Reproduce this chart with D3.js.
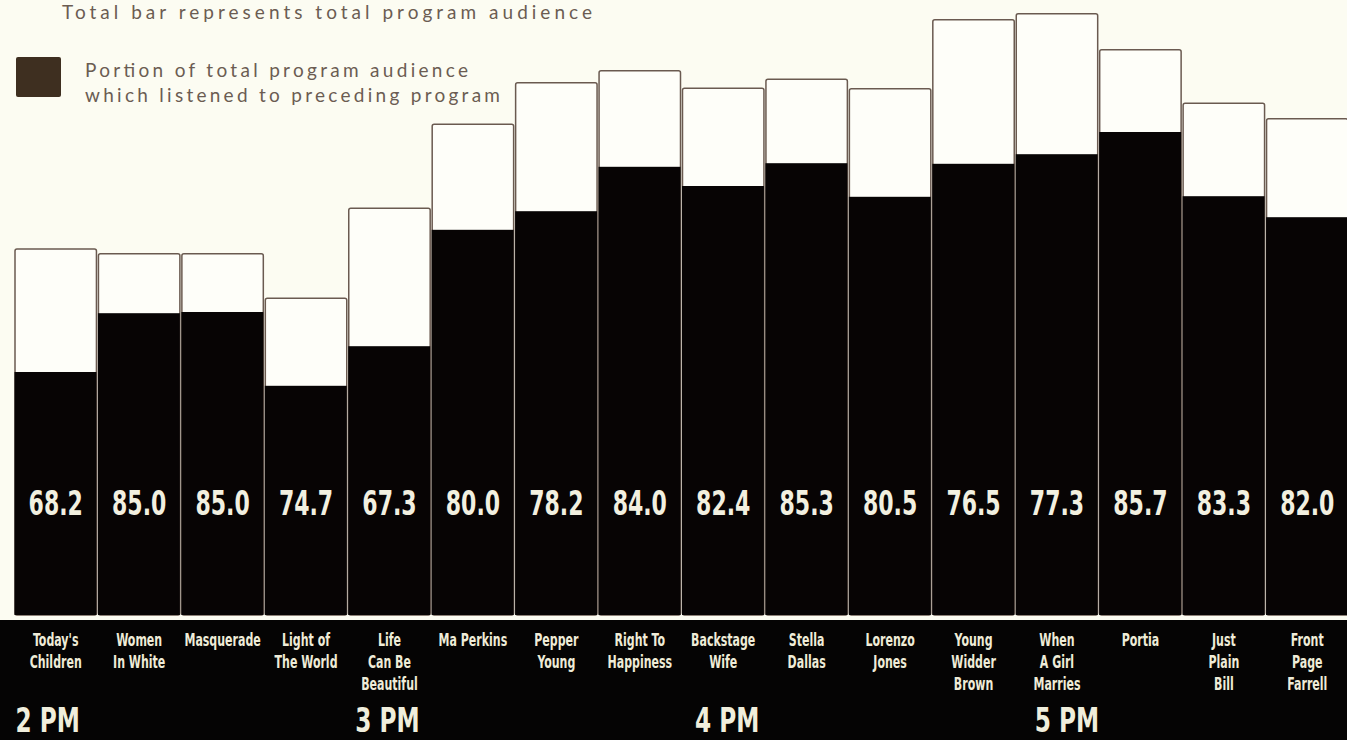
<!DOCTYPE html>
<html>
<head>
<meta charset="utf-8">
<script src="https://d3js.org/d3.v7.min.js"></script>
<style>
  body { margin: 0; background: #fcfcf2; overflow: hidden; }
  svg { display: block; }
</style>
</head>
<body>
<div id="chart"></div>
<script>
// programs in broadcast order
var programs = ["Today's Children", "Women In White", "Masquerade", "Light of The World",
    "Life Can Be Beautiful", "Ma Perkins", "Pepper Young", "Right To Happiness",
    "Backstage Wife", "Stella Dallas", "Lorenzo Jones", "Young Widder Brown",
    "When A Girl Marries", "Portia", "Just Plain Bill", "Front Page Farrell"];

// label lines under each bar
var programLines = [["Today's", "Children"], ["Women", "In White"], ["Masquerade"],
    ["Light of", "The World"], ["Life", "Can Be", "Beautiful"], ["Ma Perkins"],
    ["Pepper", "Young"], ["Right To", "Happiness"], ["Backstage", "Wife"],
    ["Stella", "Dallas"], ["Lorenzo", "Jones"], ["Young", "Widder", "Brown"],
    ["When", "A Girl", "Marries"], ["Portia"], ["Just", "Plain", "Bill"],
    ["Front", "Page", "Farrell"]];

// total program audience (index)
var totalAudience = [61.0, 60.2, 60.2, 52.8, 67.8, 81.8, 88.7, 90.7,
    87.8, 89.3, 87.7, 99.2, 100.2, 94.2, 85.3, 82.7];

// part of that audience which listened to the preceding program
var precedingAudience = [40.5, 50.3, 50.5, 38.2, 44.8, 64.2, 67.3, 74.7,
    71.5, 75.3, 69.7, 75.2, 76.8, 80.5, 69.8, 66.3];

// percentage printed on each bar
var pctLabels = ["68.2", "85.0", "85.0", "74.7", "67.3", "80.0", "78.2", "84.0",
    "82.4", "85.3", "80.5", "76.5", "77.3", "85.7", "83.3", "82.0"];

// hour marks and the program they sit under
var timeLabels = ["2 PM", "3 PM", "4 PM", "5 PM"];
var timePrograms = ["Today's Children", "Life Can Be Beautiful", "Backstage Wife", "When A Girl Marries"];

var W = 1347, H = 740;
var base = 615;

var svg = d3.select("#chart").append("svg")
    .attr("width", W)
    .attr("height", H);

svg.append("rect")
    .attr("width", W).attr("height", H)
    .attr("fill", "#fcfcf2");

var x = d3.scaleBand()
    .domain(programs)
    .range([14, 1349])
    .padding(0);

var y = d3.scaleLinear()
    .domain([0, 100])
    .range([base, 15]);

var narrow = "'DejaVu Sans Condensed', 'DejaVu Sans', sans-serif";

// squeezed text, since no narrow face is around
function squeezed(sel, cx, cy, sx, size, txt, fill) {
    sel.append("text")
        .attr("transform", "translate(" + cx + "," + cy + ") scale(" + sx + ",1)")
        .attr("text-anchor", "middle")
        .style("font-family", narrow)
        .style("font-weight", "bold")
        .style("font-size", size + "px")
        .attr("fill", fill)
        .text(txt);
}

// bottom black band
svg.append("rect")
    .attr("x", 0).attr("y", 620)
    .attr("width", W).attr("height", H - 620)
    .attr("fill", "#050404");

var bars = svg.append("g").selectAll("g")
    .data(programs)
    .enter().append("g");

// whole bar = total audience
bars.append("rect")
    .attr("x", function(d) { return x(d) + 1; })
    .attr("y", function(d, i) { return y(totalAudience[i]); })
    .attr("width", x.bandwidth() - 2)
    .attr("height", function(d, i) { return base - y(totalAudience[i]); })
    .attr("rx", 2)
    .attr("fill", "#fefef9")
    .attr("stroke", "#6a5a50")
    .attr("stroke-width", 1.5);

// dark part = listened to preceding program
bars.append("rect")
    .attr("x", function(d) { return x(d) + 0.5; })
    .attr("y", function(d, i) { return y(precedingAudience[i]); })
    .attr("width", x.bandwidth() - 1.5)
    .attr("height", function(d, i) { return base - y(precedingAudience[i]); })
    .attr("fill", "#070404");

bars.each(function(d, i) {
    var g = d3.select(this);
    var cx = x(d) + x.bandwidth() / 2;
    // percentage
    squeezed(g, cx, 515, 0.72, 34, pctLabels[i], "#f2f0e0");
    // program name
    programLines[i].forEach(function(line, j) {
        squeezed(g, cx, 646 + j * 22, 0.72, 17, line, "#efecd8");
    });
});

// hours
var hourNudge = [-8, -2, 4, 10];
timeLabels.forEach(function(t, i) {
    squeezed(svg, x(timePrograms[i]) + x.bandwidth() / 2 + hourNudge[i], 732, 0.76, 34, t, "#f0eedc");
});

// legend
var legendFont = "Lato, 'Open Sans', sans-serif";
function legendText(tx, ty, len, txt) {
    svg.append("text")
        .attr("x", tx).attr("y", ty)
        .attr("textLength", len)
        .attr("lengthAdjust", "spacing")
        .style("font-family", legendFont)
        .style("font-size", "19px")
        .attr("fill", "#6b5c52")
        .text(txt);
}

legendText(62, 19, 530, "Total bar represents total program  audience");

svg.append("rect")
    .attr("x", 16).attr("y", 57)
    .attr("width", 45).attr("height", 40)
    .attr("rx", 2)
    .attr("fill", "#3e2f20");

legendText(85, 77, 383, "Portion of total program audience");
legendText(85, 102, 415, "which listened to preceding program");
</script>
</body>
</html>
